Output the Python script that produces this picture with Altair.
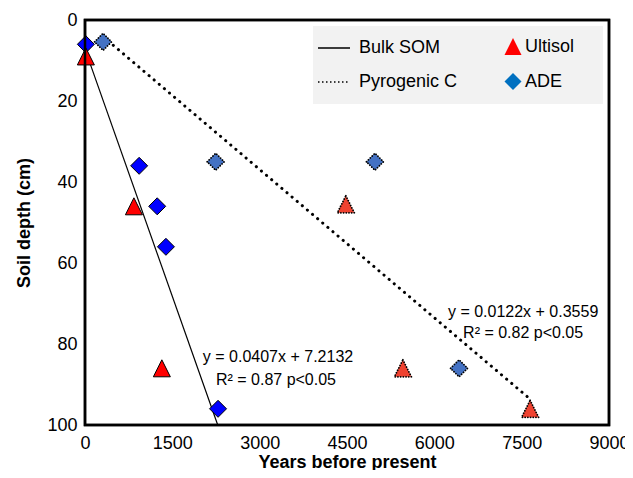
import altair as alt
import pandas as pd

# ---- data ----
bulk_soil = ["ADE", "Ultisol", "ADE", "Ultisol", "ADE", "ADE", "Ultisol", "ADE"]
bulk_years = [15, 15, 930, 840, 1240, 1390, 1320, 2285]
bulk_depth = [6, 9, 36, 46, 46, 56, 86, 96]
bulk_fill = {"ADE": "#0000FF", "Ultisol": "#FF0000"}

pyro_soil = ["ADE", "ADE", "ADE", "Ultisol", "Ultisol", "ADE", "Ultisol"]
pyro_years = [310, 2245, 4980, 4480, 5460, 6425, 7645]
pyro_depth = [5.4, 35, 35, 45.5, 86, 86, 96]
pyro_fill = {"ADE": "#4472C4", "Ultisol": "#EF4230"}

legend_soil = ["Ultisol", "ADE"]
legend_fill = ["#FF0000", "#0070C0"]

line_series = ["Bulk SOM", "Bulk SOM", "Pyrogenic C", "Pyrogenic C"]
line_years = [15, 2280, 310, 7645]
line_depth = [7.8, 100, 4.1, 93.6]

ann_text = ["y = 0.0407x + 7.2132", "R\u00b2 = 0.87 p<0.05",
            "y = 0.0122x + 0.3559", "R\u00b2 = 0.82 p<0.05"]
ann_years = [3315, 3280, 7525, 7525]
ann_depth = [83.2, 88.9, 72.1, 77.3]

x_domain = [0, 9000]
y_domain = [0, 100]
x_ticks = [0, 1500, 3000, 4500, 6000, 7500, 9000]
y_ticks = [0, 20, 40, 60, 80, 100]

FONT = "Liberation Sans"
NBSP = "\u00a0"

bulk_df = pd.DataFrame({"soil": bulk_soil, "years": bulk_years, "depth": bulk_depth})
bulk_df["fc"] = bulk_df["soil"].map(bulk_fill)
pyro_df = pd.DataFrame({"soil": pyro_soil, "years": pyro_years, "depth": pyro_depth})
pyro_df["fc"] = pyro_df["soil"].map(pyro_fill)
lines_df = pd.DataFrame({"series": line_series, "years": line_years, "depth": line_depth})
ann_df = pd.DataFrame({"label": ann_text, "years": ann_years, "depth": ann_depth})
frame_df = pd.DataFrame({"x0": [x_domain[0]], "x1": [x_domain[1]],
                         "y0": [y_domain[0]], "y1": [y_domain[1]]})

x = alt.X("years:Q",
          scale=alt.Scale(domain=x_domain, nice=False),
          axis=alt.Axis(values=x_ticks, title="Years before present", grid=False,
                        ticks=False, domain=False, labelFlush=False, labelPadding=9,
                        labelFontSize=18, labelFont=FONT, labelColor="black",
                        titleFontSize=18, titleFont=FONT, titleFontWeight="bold",
                        titleColor="black", titlePadding=1, format="d"))
y = alt.Y("depth:Q",
          scale=alt.Scale(domain=y_domain, reverse=True, nice=False),
          axis=alt.Axis(values=y_ticks, title="Soil depth (cm)", grid=False,
                        ticks=False, domain=False, labelFlush=False, labelPadding=8,
                        labelFontSize=18, labelFont=FONT, labelColor="black",
                        titleFontSize=18, titleFont=FONT, titleFontWeight="bold",
                        titleColor="black", titlePadding=13))

shape_scale = alt.Scale(domain=legend_soil, range=["M0,-1L1,1L-1,1Z", "diamond"])
shape_legend = alt.Legend(title=NBSP, titleOrient="right", titlePadding=17,
                          titleFontSize=18, titleFont=FONT,
                          orient="none", legendX=228, legendY=6,
                          padding=11.5, fillColor="#F2F2F2", symbolSize=289,
                          symbolStrokeColor="black", symbolStrokeWidth=1,
                          symbolOpacity=1, symbolDash=[1, 0],
                          symbolOffset=179.5, labelOffset=3, rowPadding=13,
                          labelFont=FONT, labelFontSize=18, labelColor="black",
                          zindex=1)
line_legend = alt.Legend(title=None, orient="none", legendX=228, legendY=7,
                         padding=4, symbolType="stroke", symbolSize=1024,
                         symbolStrokeWidth=1.5, symbolStrokeColor="black",
                         symbolOpacity=1, labelOffset=8, rowPadding=8,
                         labelFont=FONT, labelFontSize=18, labelColor="black",
                         zindex=2)

bulk_line = alt.Chart(lines_df).transform_filter("datum.series == 'Bulk SOM'").mark_line(
    color="black", strokeWidth=1.2).encode(x=x, y=y)
pyro_line = alt.Chart(lines_df).transform_filter("datum.series == 'Pyrogenic C'").mark_line(
    color="black", strokeWidth=3, strokeDash=[0.1, 6.6], strokeCap="round").encode(x=x, y=y)
legend_line = alt.Chart(lines_df).mark_line(color="black", opacity=0).encode(
    x=x, y=y,
    strokeDash=alt.StrokeDash("series:N",
                              scale=alt.Scale(domain=["Bulk SOM", "Pyrogenic C"],
                                              range=[[1, 0], [1.5, 2.5]]),
                              legend=line_legend))

ann = alt.Chart(ann_df).mark_text(font=FONT, fontSize=16, align="center",
                                  baseline="middle", color="black").encode(
    x=x, y=y, text="label:N")

# invisible layer that only carries the symbol legend
legend_pts = alt.Chart(bulk_df).mark_point(filled=True, size=289, stroke="black",
                                           strokeWidth=1, opacity=0).encode(
    x=x, y=y,
    shape=alt.Shape("soil:N", scale=shape_scale, legend=shape_legend),
    fill=alt.Fill("soil:N", scale=alt.Scale(domain=legend_soil, range=legend_fill),
                  legend=shape_legend))

bulk_pts = alt.Chart(bulk_df).mark_point(filled=True, size=289, stroke="black",
                                         strokeWidth=1, opacity=1).encode(
    x=x, y=y,
    shape=alt.Shape("soil:N", scale=shape_scale, legend=shape_legend),
    color=alt.Color("fc:N", scale=None))

pyro_pts = alt.Chart(pyro_df).mark_point(filled=True, size=289, stroke="black",
                                         strokeWidth=1.8, strokeDash=[0.1, 2.6],
                                         strokeCap="round", opacity=1).encode(
    x=x, y=y,
    shape=alt.Shape("soil:N", scale=shape_scale, legend=shape_legend),
    color=alt.Color("fc:N", scale=None))

frame = alt.Chart(frame_df).mark_rect(filled=False, stroke="black", strokeWidth=2.5,
                                      fill=None).encode(
    x=alt.X("x0:Q", scale=alt.Scale(domain=x_domain, nice=False)),
    x2="x1:Q",
    y=alt.Y("y0:Q", scale=alt.Scale(domain=y_domain, reverse=True, nice=False)),
    y2="y1:Q")

chart = alt.layer(legend_pts, bulk_line, pyro_line, legend_line, ann, bulk_pts, pyro_pts,
                  frame).properties(
    width=524, height=405,
    autosize=alt.AutoSizeParams(type="none"),
    padding={"left": 77, "top": 12, "right": 16, "bottom": 45},
    background="white",
).configure(font=FONT, view=alt.ViewConfig(stroke="black", strokeWidth=2.5))

chart.save("out.html", embed_options={"renderer": "svg", "actions": False})
